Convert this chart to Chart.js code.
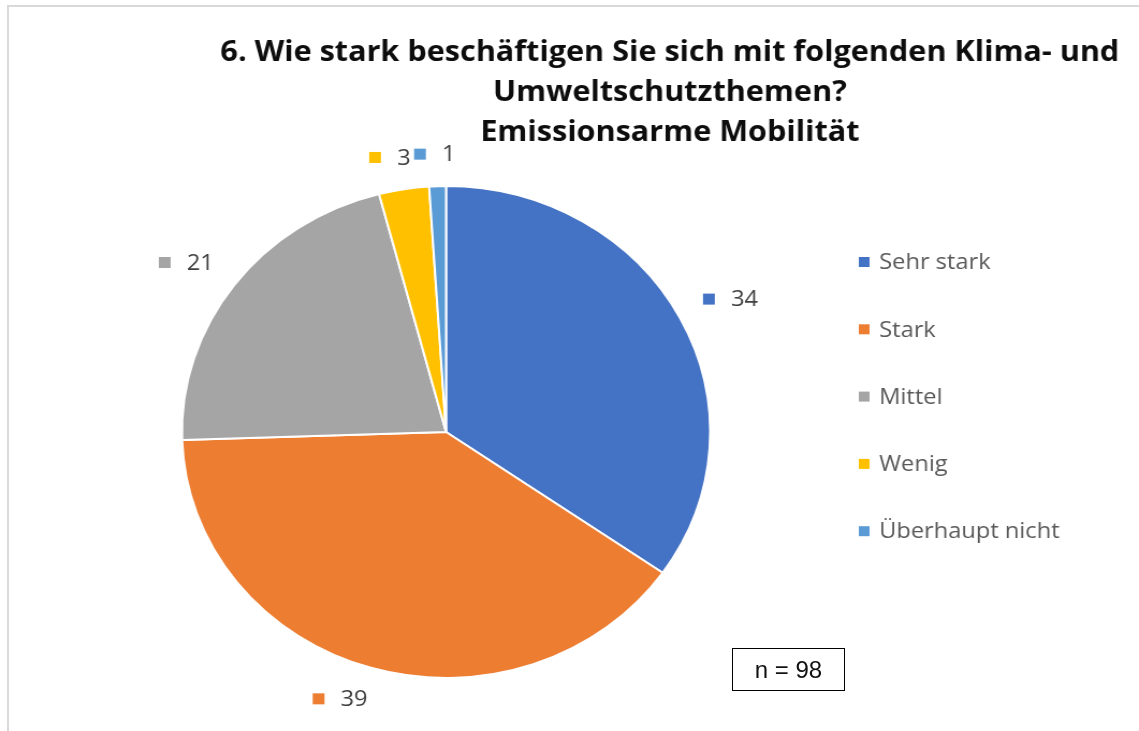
<!DOCTYPE html>
<html>
<head>
<meta charset="utf-8">
<script src="https://cdn.jsdelivr.net/npm/chart.js@4.4.0/dist/chart.umd.min.js"></script>
<style>
    html, body { margin: 0; padding: 0; background: #fff; overflow: hidden; }
    body { width: 1139px; height: 731px; position: relative; }
    /* original chart is slightly stretched horizontally */
    #frame { position: absolute; left: 0; top: 0; width: 1061px; height: 731px;
             transform: scaleX(1.0735); transform-origin: 0 0; }
    #edge { position: absolute; left: 7px; top: 5px; right: 0; bottom: 0;
            border-left: 2px solid #d9d9d9; border-top: 2px solid #d9d9d9; }
    #nbox { position: absolute; left: 732px; top: 648px; width: 111px; height: 41px;
            border: 1.5px solid #000; font: 24px "Liberation Sans", Arial, sans-serif;
            color: #111; text-align: center; line-height: 41px; }
</style>
</head>
<body>
<div id="edge"></div>
<div id="frame"><canvas id="pieChart"></canvas></div>
<div id="nbox">n = 98</div>
<script>
// Data
const categories = ['Sehr stark', 'Stark', 'Mittel', 'Wenig', 'Überhaupt nicht'];
const answers = [34, 39, 21, 3, 1];
const sliceColors = ['#4472C4', '#ED7D31', '#A5A5A5', '#FFC000', '#5B9BD5'];
const titleLines = [
    '6. Wie stark beschäftigen Sie sich mit folgenden Klima- und',
    'Umweltschutzthemen?',
    'Emissionsarme Mobilität'
];

const clamp = v => Math.max(-1, Math.min(1, v));

// Title, legend and outside value labels
const decorPlugin = {
    id: 'decor',
    afterDatasetsDraw(chart) {
        const ctx = chart.ctx;
        ctx.save();

        // title
        ctx.font = 'bold 28.5px "Open Sans", sans-serif';
        ctx.fillStyle = '#0d0d0d';
        ctx.textAlign = 'center';
        ctx.textBaseline = 'alphabetic';
        titleLines.forEach((line, i) => {
            ctx.fillText(line, 624, 61 + i * 40);
        });

        // legend on the right
        ctx.font = '22px "Open Sans", sans-serif';
        ctx.textAlign = 'left';
        ctx.textBaseline = 'middle';
        categories.forEach((name, i) => {
            const y = 262 + i * 67.3;
            ctx.fillStyle = sliceColors[i];
            ctx.fillRect(800, y - 5, 10, 10);
            ctx.fillStyle = '#595959';
            ctx.fillText(name, 819, y + 1);
        });

        // value labels outside the slices
        const meta = chart.getDatasetMeta(0);
        ctx.font = '22px "Open Sans", sans-serif';
        meta.data.forEach((arc, i) => {
            const p = arc.getProps(['x', 'y', 'startAngle', 'endAngle', 'outerRadius'], true);
            const mid = (p.startAngle + p.endAngle) / 2;
            const r = p.outerRadius + 24;
            const px = p.x + Math.cos(mid) * r;
            const py = p.y + Math.sin(mid) * r;
            const text = String(answers[i]);
            const mark = 11, gap = 15, h = 16;
            const w = mark + gap + ctx.measureText(text).width;
            const cx = px + w / 2 * clamp(Math.cos(mid) * 3);
            const cy = py + h / 2 * clamp(Math.sin(mid) * 3);
            const left = cx - w / 2;
            ctx.fillStyle = sliceColors[i];
            ctx.fillRect(left, cy - mark / 2, mark, mark);
            ctx.fillStyle = '#404040';
            ctx.fillText(text, left + mark + gap, cy + 1);
        });

        ctx.restore();
    }
};

const ctx = document.getElementById('pieChart').getContext('2d');
new Chart(ctx, {
    type: 'pie',
    data: {
        labels: categories,
        datasets: [{
            data: answers,
            backgroundColor: sliceColors,
            borderColor: '#ffffff',
            borderWidth: 2
        }]
    },
    options: {
        responsive: true,
        maintainAspectRatio: false,
        animation: false,
        layout: {
            padding: { top: 185, bottom: 52, left: 168.5, right: 398.5 }
        },
        plugins: {
            legend: { display: false },
            title: { display: false },
            tooltip: { enabled: false }
        }
    },
    plugins: [decorPlugin]
});
</script>
</body>
</html>
